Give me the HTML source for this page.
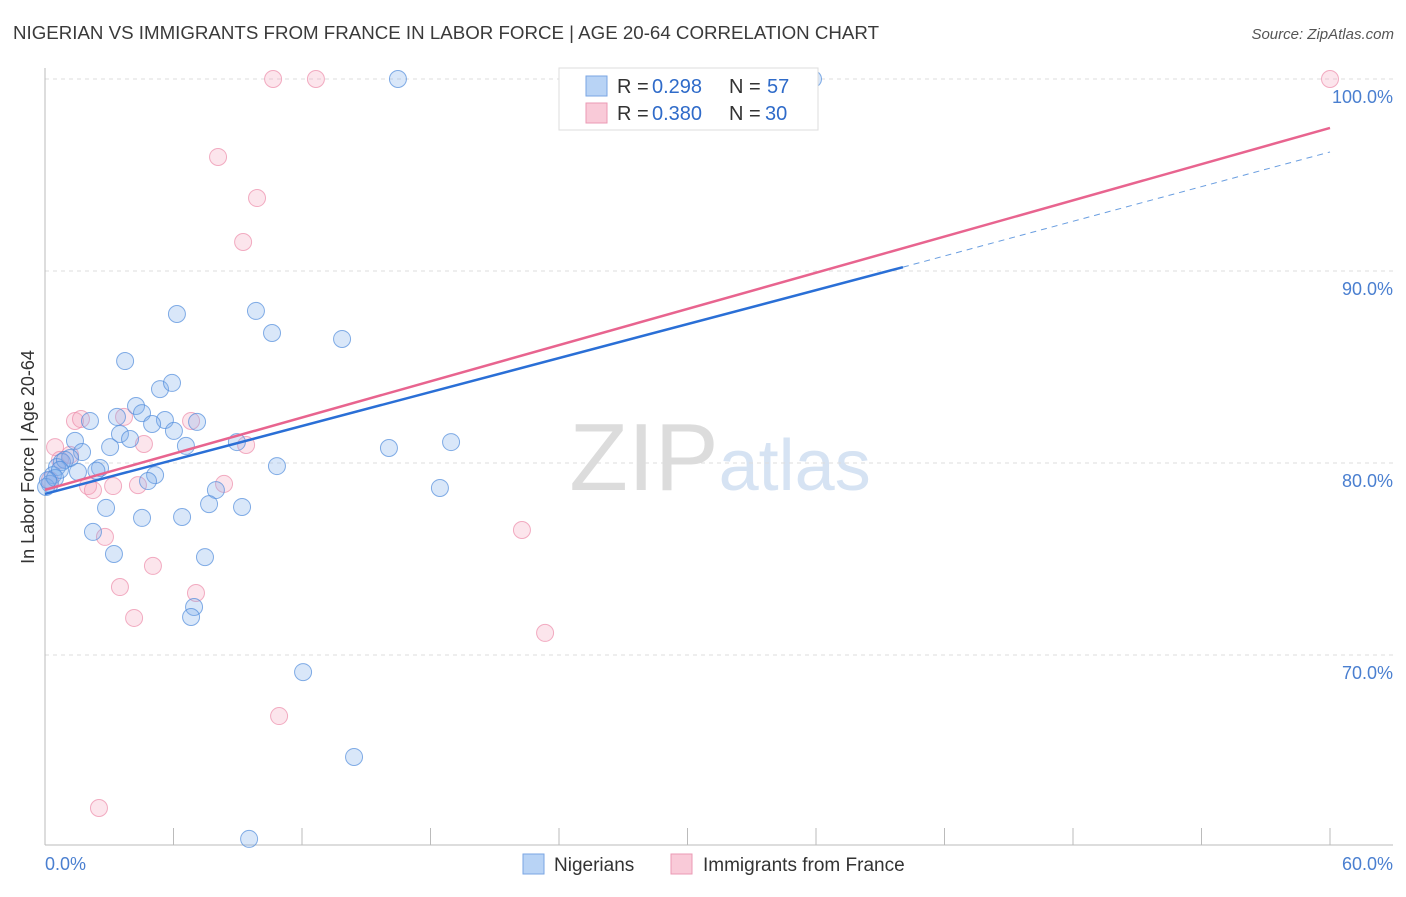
<!DOCTYPE html>
<html><head><meta charset="utf-8"><style>
body{margin:0;background:#fff;font-family:"Liberation Sans",sans-serif;}
svg text{font-family:"Liberation Sans",sans-serif;}
</style></head><body>
<svg id="chart" width="1406" height="892" xmlns="http://www.w3.org/2000/svg">
<text x="13" y="39" font-size="18" fill="#3a3a3a" textLength="866" lengthAdjust="spacingAndGlyphs">NIGERIAN VS IMMIGRANTS FROM FRANCE IN LABOR FORCE | AGE 20-64 CORRELATION CHART</text>
<text x="1394" y="39" font-size="15" fill="#555" text-anchor="end" font-style="italic">Source: ZipAtlas.com</text>
<text x="720" y="490" font-size="96" text-anchor="middle" fill="#dcdcdc" font-family="Liberation Serif"><tspan>ZIP</tspan><tspan fill="#d6e3f3" font-family="Liberation Sans" font-size="72">atlas</tspan></text>
<g id="grid"></g>
<g id="marks"></g>
<text transform="translate(34,457) rotate(-90)" font-size="18" fill="#333" text-anchor="middle">In Labor Force | Age 20-64</text>
<text x="45" y="870" font-size="18" fill="#4a7fd0">0.0%</text>
<text x="1393" y="870" font-size="18" fill="#4a7fd0" text-anchor="end">60.0%</text>
<g>
<rect x="559" y="68" width="259" height="62" fill="#fff" stroke="#ddd"/>
<rect x="586" y="76" width="21" height="20" fill="#b8d3f5" stroke="#7aa6e3"/>
<rect x="586" y="103" width="21" height="20" fill="#f9cad8" stroke="#eb9ab4"/>
<text x="617" y="93" font-size="20" fill="#333">R =</text>
<text x="652" y="93" font-size="20" fill="#2f6bc9">0.298</text>
<text x="729" y="93" font-size="20" fill="#333">N =</text>
<text x="767" y="93" font-size="20" fill="#2f6bc9">57</text>
<text x="617" y="120" font-size="20" fill="#333">R =</text>
<text x="652" y="120" font-size="20" fill="#2f6bc9">0.380</text>
<text x="729" y="120" font-size="20" fill="#333">N =</text>
<text x="765" y="120" font-size="20" fill="#2f6bc9">30</text>
</g>
<g>
<rect x="523" y="854" width="21" height="20" fill="#b8d3f5" stroke="#7aa6e3"/>
<text x="554" y="871" font-size="19" fill="#333">Nigerians</text>
<rect x="671" y="854" width="21" height="20" fill="#f9cad8" stroke="#eb9ab4"/>
<text x="703" y="871" font-size="19" fill="#333">Immigrants from France</text>
</g>
</svg>
<script>
const yTicks=[100,90,80,70];
const yTickLabels=["100.0%","90.0%","80.0%","70.0%"];
const xTicks=[6,12,18,24,30,36,42,48,54,60];
const blueX=[16.48,35.86,6.16,9.85,10.60,13.87,3.74,5.37,5.93,4.25,4.53,3.36,2.10,5.60,5.00,7.10,6.02,3.50,3.97,3.04,1.40,6.58,8.96,16.06,18.96,1.73,1.17,0.79,0.56,1.54,2.57,10.83,5.14,4.81,0.37,0.23,7.98,18.44,7.66,9.20,2.85,4.53,6.40,2.24,3.22,7.47,6.96,6.82,12.05,14.43,9.53,0.05,0.47,0.93,0.70,0.14,2.4];
const blueY=[100,100,87.76,87.92,86.77,86.46,85.31,83.85,84.17,82.97,82.60,82.40,82.19,82.24,82.03,82.14,81.67,81.51,81.25,80.83,81.15,80.89,81.09,80.78,81.09,80.57,80.26,80.05,79.79,79.53,79.74,79.84,79.37,79.06,79.37,78.91,78.59,78.70,77.86,77.71,77.66,77.14,77.19,76.41,75.26,75.10,72.5,71.98,69.11,64.69,60.42,78.75,79.22,80.16,79.64,79.11,79.6];
const pinkX=[10.65,12.65,60,8.08,9.90,9.25,1.40,1.68,3.69,6.82,4.62,9.39,0.47,0.70,1.17,2.01,2.24,3.18,4.34,8.36,22.27,2.80,5.04,3.50,7.05,4.16,23.35,10.93,2.52,0.23];
const pinkY=[100,100,100,95.94,93.80,91.51,82.19,82.29,82.40,82.19,80.99,80.94,80.83,80.16,80.42,78.80,78.59,78.80,78.85,78.91,76.51,76.15,74.64,73.54,73.23,71.93,71.15,66.82,62.03,79.11];
const blueTrend=[[0,78.39],[40.06,90.2],[60,96.2]];
const pinkTrend=[[0,78.6],[60,97.45]];
const NS="http://www.w3.org/2000/svg";
const sx=v=>45+v/60*1285;
const sy=v=>79+(100-v)*19.2;
function mk(t,a,p){const e=document.createElementNS(NS,t);for(const k in a)e.setAttribute(k,a[k]);p.appendChild(e);return e;}
const grid=document.getElementById('grid'),marks=document.getElementById('marks');
yTicks.forEach((v,i)=>{
 const l=mk('line',{x1:45,x2:1393,y1:sy(v),y2:sy(v),stroke:'#ddd','stroke-dasharray':'4,4'},grid);
 
 
 const t=mk('text',{x:1393,y:sy(v)+24,'font-size':18,fill:'#4a7fd0','text-anchor':'end'},grid);
 t.textContent=yTickLabels[i];
 
 
});
mk('line',{x1:45,x2:45,y1:68,y2:845,stroke:'#bbb'},grid);
mk('line',{x1:45,x2:1393,y1:845,y2:845,stroke:'#bbb'},grid);
xTicks.forEach(v=>{
 const l=mk('line',{x1:sx(v),x2:sx(v),y1:828,y2:845,stroke:'#bbb'},grid);
 
 
});
function dots(X,Y,fill,stroke,name){X.forEach((x,i)=>{
 const c=mk('circle',{cx:sx(x),cy:sy(Y[i]),r:8.5,fill:fill,stroke:stroke,'stroke-width':1},marks);
 
 
});}
dots(pinkX,pinkY,'rgba(244,160,188,0.28)','rgba(236,140,170,0.7)','france-point');
dots(blueX,blueY,'rgba(130,175,235,0.3)','rgba(80,140,220,0.7)','nigerian-point');
let b=mk('line',{x1:sx(blueTrend[0][0]),y1:sy(blueTrend[0][1]),x2:sx(blueTrend[1][0]),y2:sy(blueTrend[1][1]),stroke:'#2a6fd6','stroke-width':2.5},marks);


b=mk('line',{x1:sx(blueTrend[1][0]),y1:sy(blueTrend[1][1]),x2:sx(blueTrend[2][0]),y2:sy(blueTrend[2][1]),stroke:'#6a9ee0','stroke-width':1,'stroke-dasharray':'6,5'},marks);


const p=mk('line',{x1:sx(pinkTrend[0][0]),y1:sy(pinkTrend[0][1]),x2:sx(pinkTrend[1][0]),y2:sy(pinkTrend[1][1]),stroke:'#e8648f','stroke-width':2.5},marks);


</script>
</body></html>
